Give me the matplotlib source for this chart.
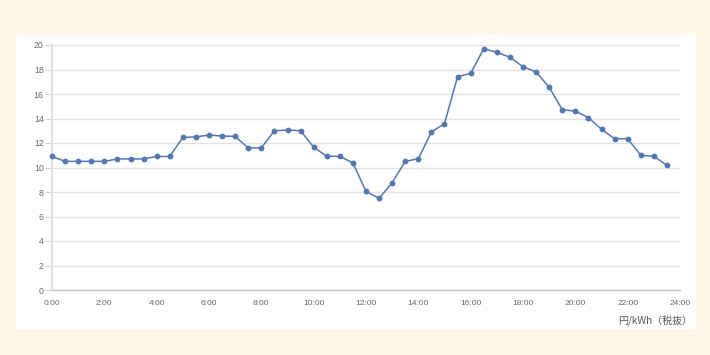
import matplotlib.pyplot as plt
import numpy as np
from matplotlib.patches import Rectangle

plt.rcParams['font.family'] = ['Noto Sans CJK JP', 'DejaVu Sans']

# half-hour slots 0:00 .. 23:30
slots = np.arange(48) * 0.5
prices = [
    10.9, 10.5, 10.5, 10.5, 10.5, 10.7, 10.7, 10.7, 10.9, 10.9,
    12.45, 12.5, 12.65, 12.57, 12.54, 11.6, 11.6, 13.0, 13.06, 13.0,
    11.65, 10.93, 10.91, 10.37, 8.05, 7.48, 8.76, 10.5, 10.72, 12.9,
    13.58, 17.42, 17.68, 19.7, 19.4, 19.0, 18.23, 17.8, 16.55, 14.72,
    14.6, 14.07, 13.12, 12.35, 12.35, 11.0, 10.91, 10.18,
]
x_ticks = np.arange(0, 25, 2)
x_labels = [f"{h}:00" for h in x_ticks]
y_ticks = np.arange(0, 21, 2)
unit_label = "円/kWh（税抜）"

fig = plt.figure(figsize=(7.1, 3.55), dpi=100)
fig.patch.set_facecolor("#fef7e6")

W, H = 710, 355
fig.patches.append(Rectangle((16 / W, 1 - 329 / H), 680 / W, 294 / H,
                             transform=fig.transFigure, facecolor="white",
                             edgecolor="none", zorder=0))

ax = fig.add_axes([52 / W, 1 - 290 / H, 628 / W, 245 / H])
ax.set_facecolor("white")
ax.set_zorder(1)

ax.plot(slots, prices, color="#5078b4", lw=1.1, marker="o", ms=4.2,
        markeredgewidth=0, zorder=3, clip_on=False)

ax.set_xlim(0, 24)
ax.set_ylim(0, 20)
ax.set_xticks(x_ticks)
ax.set_xticklabels(x_labels)
ax.set_yticks(y_ticks)

ax.grid(axis="y", color="#e2e2e2", lw=1.0)
ax.set_axisbelow(True)
for side in ["top", "right"]:
    ax.spines[side].set_visible(False)
ax.spines["left"].set_color("#e0e0e0")
ax.spines["left"].set_linewidth(1.5)
ax.spines["bottom"].set_color("#c4c4c4")
ax.spines["bottom"].set_linewidth(1.0)

ax.tick_params(axis="y", length=5, width=0.8, color="#d0d0d0",
               labelsize=6.3, labelcolor="#666666", pad=1)
ax.tick_params(axis="x", length=0, labelsize=6.0, labelcolor="#666666", pad=7)
for lbl in ax.get_xticklabels() + ax.get_yticklabels():
    lbl.set_family(["Liberation Sans", "DejaVu Sans"])

fig.text(692 / W, 1 - 321 / H, unit_label, ha="right", va="center",
         fontsize=7.2, color="#555555")

fig.savefig("out.png", dpi=100, facecolor=fig.get_facecolor())
